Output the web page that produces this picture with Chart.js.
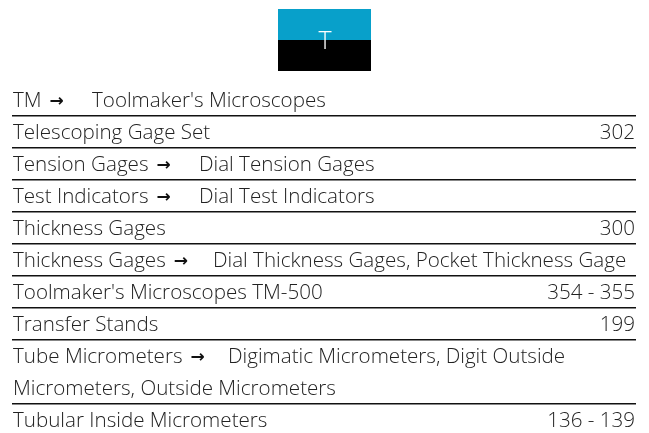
<!DOCTYPE html>
<html><head><meta charset="utf-8">
<script src="https://cdn.jsdelivr.net/npm/chart.js@4"></script>
<style>html,body{margin:0;padding:0;background:#fff;overflow:hidden}#wrap{width:649px;height:433px}</style>
</head><body><div id="wrap"><canvas id="c" width="649" height="433"></canvas></div>
<script>
// ---- data ----
const sectionLetter = "T";
const entries = [
  "TM",
  "Telescoping Gage Set",
  "Tension Gages",
  "Test Indicators",
  "Thickness Gages",
  "Thickness Gages",
  "Toolmaker's Microscopes TM-500",
  "Transfer Stands",
  "Tube Micrometers",
  "Tubular Inside Micrometers"
];
const seeAlso = [
  "Toolmaker's Microscopes",
  null,
  "Dial Tension Gages",
  "Dial Test Indicators",
  null,
  "Dial Thickness Gages, Pocket Thickness Gage",
  null,
  null,
  "Digimatic Micrometers, Digit Outside Micrometers, Outside Micrometers",
  null
];
const pages = [null, "302", null, null, "300", null, "354 - 355", "199", null, "136 - 139"];

// ---- style / layout ----
const FAMILY = "'Open Sans', Lato, sans-serif";
const WEIGHT = 300;
const TEXT_COLOR = "#222";
const RULE_COLOR = "#111";
const HEADER_BLUE = "#08a0ca";
const ROW_PX = 32;
const TOP_PX = 84;
const BASE_OFFSET = 6.5;
const seeTab = {0: 92, 2: 199, 3: 199, 5: 213, 8: 228};

const mctx = document.createElement('canvas').getContext('2d');
mctx.font = `${WEIGHT} 100px ${FAMILY}`;
const FONT_SIZE = Math.round(197 / mctx.measureText("Telescoping Gage Set").width * 1000) / 10;
const FONT = `${WEIGHT} ${FONT_SIZE}px ${FAMILY}`;
const ARROW_FONT = `bold 17px 'DejaVu Sans', sans-serif`;
const LEFT = 12, RIGHT = 636;

// wrap see-also text into lines
mctx.font = FONT;
const layoutLines = [];
let lineIdx = 0;
entries.forEach((e, i) => {
  const item = {start: lineIdx, lines: []};
  if (seeAlso[i]) {
    const words = seeAlso[i].split(' ');
    let cur = '', x0 = seeTab[i] || 200;
    words.forEach(w => {
      const test = cur ? cur + ' ' + w : w;
      if (x0 + mctx.measureText(test).width > RIGHT && cur) {
        item.lines.push({x: x0, text: cur});
        cur = w; x0 = LEFT + 1;
      } else cur = test;
    });
    item.lines.push({x: x0, text: cur});
  }
  const n = Math.max(1, item.lines.length);
  lineIdx += n;
  item.end = lineIdx - 1;
  layoutLines.push(item);
});
const separators = layoutLines.map(it => it.end + 0.5);

const textPlugin = {
  id: 'indexText',
  afterDraw(chart) {
    const ctx = chart.ctx;
    const xs = chart.scales.x, ys = chart.scales.y;
    // header box
    ctx.save();
    ctx.fillStyle = HEADER_BLUE; ctx.fillRect(278, 9, 93, 31);
    ctx.fillStyle = "#000"; ctx.fillRect(278, 40, 93, 31);
    ctx.fillStyle = "#fff";
    ctx.font = `300 25px ${FAMILY}`;
    ctx.textAlign = 'center'; ctx.textBaseline = 'alphabetic';
    ctx.fillText(sectionLetter, 325, 48.5);
    // rows
    ctx.fillStyle = TEXT_COLOR;
    const left = xs.getPixelForValue(0) + 1;
    const right = xs.getPixelForValue(1) - 1;
    entries.forEach((e, i) => {
      const it = layoutLines[i];
      const base = ys.getPixelForValue(it.start) + BASE_OFFSET;
      ctx.font = FONT; ctx.textAlign = 'left';
      ctx.fillText(e, left, base);
      if (seeAlso[i]) {
        const w = ctx.measureText(e).width;
        ctx.font = ARROW_FONT;
        ctx.fillStyle = "#111";
        ctx.fillText("\u2192", left + w + 8, base - 1);
        ctx.fillStyle = TEXT_COLOR;
        ctx.font = FONT;
        it.lines.forEach((ln, k) => {
          ctx.fillText(ln.text, ln.x, ys.getPixelForValue(it.start + k) + BASE_OFFSET);
        });
      }
      if (pages[i]) {
        ctx.textAlign = 'right';
        ctx.fillText(pages[i], right, base);
      }
    });
    ctx.restore();
  }
};

const pointData = layoutLines.map((it, i) => ({x: 0, y: it.start}));

new Chart(document.getElementById('c'), {
  type: 'scatter',
  data: {datasets: [{data: pointData, pointRadius: 0, showLine: false}]},
  options: {
    responsive: false,
    animation: false,
    events: [],
    layout: {padding: {left: LEFT, right: 649 - RIGHT, top: TOP_PX, bottom: 0}},
    plugins: {legend: {display: false}, tooltip: {enabled: false}},
    scales: {
      x: {type: 'linear', min: 0, max: 1, display: false},
      y: {
        type: 'linear', reverse: true,
        min: -0.5, max: -0.5 + (433 - TOP_PX) / ROW_PX,
        afterBuildTicks(scale) { scale.ticks = separators.map(v => ({value: v})); },
        ticks: {display: false},
        border: {display: false},
        grid: {drawTicks: false, color: RULE_COLOR, lineWidth: 1.6}
      }
    }
  },
  plugins: [textPlugin]
});
</script></body></html>
